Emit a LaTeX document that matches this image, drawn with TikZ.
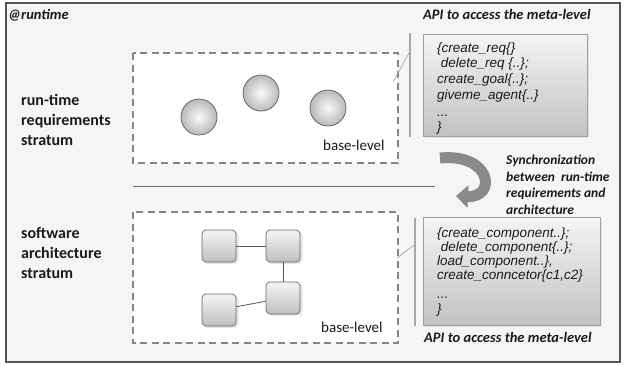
\documentclass[tikz,border=0pt]{standalone}
\usepackage{fontspec}
\setmainfont{Carlito}
\newfontfamily\codefont{Liberation Sans}
\usetikzlibrary{shadows,arrows.meta}
\definecolor{framebg}{HTML}{F5F5F5}
\definecolor{framedraw}{HTML}{555555}
\definecolor{dashcol}{HTML}{858585}
\definecolor{txt}{HTML}{1A1A1A}
\definecolor{arrowcol}{HTML}{8A8A8A}
\definecolor{thinline}{HTML}{A8A8A8}
\begin{document}
\begin{tikzpicture}[x=1pt,y=-1pt,
  lbl/.style={anchor=base west, inner sep=0pt, text=txt, font=\bfseries\fontsize{16}{18}\selectfont},
  ital/.style={anchor=base west, inner sep=0pt, text=txt, font=\bfseries\itshape\fontsize{14.5}{16}\selectfont},
  synctxt/.style={anchor=base west, inner sep=0pt, text=txt, font=\bfseries\itshape\fontsize{13.5}{16}\selectfont},
  codeline/.style={anchor=base west, inner sep=0pt, text=txt, font=\codefont\itshape\fontsize{13.5}{14}\selectfont},
  baselbl/.style={anchor=base west, inner sep=0pt, text=txt, font=\fontsize{15}{16}\selectfont},
  dashbox/.style={draw=dashcol, line width=1.5pt, dash pattern=on 7pt off 4.5pt, fill=white},
  ballnode/.style={circle, minimum size=36pt, inner sep=0pt, draw=black!65, line width=0.7pt, shading=radial, inner color=gray!4, outer color=gray!55},
  comp/.style={rectangle, rounded corners=4pt, minimum width=34pt, minimum height=32pt, inner sep=0pt, draw=black!60, line width=0.7pt, top color=gray!8, bottom color=gray!50, drop shadow={opacity=0.2, shadow xshift=2.5pt, shadow yshift=-2pt}},
  apibox/.style={rectangle, anchor=north west, inner sep=0pt, draw=gray!75, line width=0.8pt, top color=gray!8, bottom color=gray!48, drop shadow={opacity=0.15, shadow xshift=2pt, shadow yshift=-2pt}},
  link/.style={draw=black!65, line width=0.8pt},
  callout/.style={draw=thinline, line width=1.1pt}
]
\useasboundingbox (0,0) rectangle (626,365);
% outer frame
\draw[fill=framebg, draw=framedraw, line width=2pt] (6,3) rectangle (620,362);
\node[ital] (runtime) at (8,19) {@runtime};

% top stratum
\node[lbl] (r1) at (21,105) {run-time};
\node[lbl] (r2) at (21,125) {requirements};
\node[lbl] (r3) at (21,145) {stratum};
\draw[dashbox] (133,53) rectangle (398,163);
\node[ballnode] (b1) at (199,117) {};
\node[ballnode] (b2) at (261,93) {};
\node[ballnode] (b3) at (328,108) {};
\node[baselbl] (base1) at (323,150) {base-level};

% top API
\node[ital] (apititle1) at (423,19) {API to access the meta-level};
\coordinate (v1a) at (410,33);
\coordinate (v1b) at (410,137);
\draw[callout] (v1a) -- (v1b);
\coordinate (d1a) at (393,82);
\coordinate (d1b) at (409,53);
\draw[callout, line width=0.7pt] (d1a) -- (d1b);
\node[apibox, minimum width=164pt, minimum height=102pt] (api1) at (423,34) {};
\node[codeline] (c11) at (437,52) {\{create\_req\{\}};
\node[codeline] (c12) at (437,67) {\ delete\_req \{..\};};
\node[codeline] (c13) at (437,83) {create\_goal\{..\};};
\node[codeline] (c14) at (437,99) {giveme\_agent\{..\}};
\node[codeline] (c15) at (437,116) {...};
\node[codeline] (c16) at (437,131) {\}};

% middle separator
\coordinate (h1) at (133,186);
\coordinate (h2) at (435,186);
\draw[draw=black!60, line width=0.8pt] (h1) -- (h2);

% sync arrow
\coordinate (sa) at (440,158);
\coordinate (sb) at (456,196);
\draw[arrowcol, line width=11pt, -{Triangle[length=12pt,width=22pt]}] (sa) .. controls (492,153) and (497,198) .. (sb);
\node[synctxt] (s1) at (506,164) {Synchronization};
\node[synctxt] (s2) at (506,181) {between\ \ run-time};
\node[synctxt] (s3) at (506,197) {requirements and};
\node[synctxt] (s4) at (506,214) {architecture};

% bottom stratum
\node[lbl] (a1) at (21,238) {software};
\node[lbl] (a2) at (21,258) {architecture};
\node[lbl] (a3) at (21,278) {stratum};
\draw[dashbox] (133,212) rectangle (398,343);
\node[comp] (q1) at (219,246) {};
\node[comp] (q2) at (283,246) {};
\node[comp] (q3) at (283,298) {};
\node[comp] (q4) at (219,310) {};
\draw[link] (q1) -- (q2);
\draw[link] (q2) -- (q3);
\draw[link] (q4) -- (q3);
\node[baselbl] (base2) at (321,332) {base-level};

% bottom API
\coordinate (v2a) at (415,218);
\coordinate (v2b) at (415,326);
\draw[callout] (v2a) -- (v2b);
\coordinate (d2a) at (397,258);
\coordinate (d2b) at (414,245);
\draw[callout, line width=0.7pt] (d2a) -- (d2b);
\node[apibox, minimum width=177pt, minimum height=108pt] (api2) at (423,217) {};
\node[codeline] (c21) at (437,237) {\{create\_component..\};};
\node[codeline] (c22) at (437,251) {\ delete\_component\{..\};};
\node[codeline] (c23) at (437,265) {load\_component..\},};
\node[codeline] (c24) at (437,279) {create\_conncetor\{c1,c2\}};
\node[codeline] (c25) at (437,298) {...};
\node[codeline] (c26) at (437,313) {\}};
\node[ital] (apititle2) at (424,342) {API to access the meta-level};
\end{tikzpicture}
\end{document}
